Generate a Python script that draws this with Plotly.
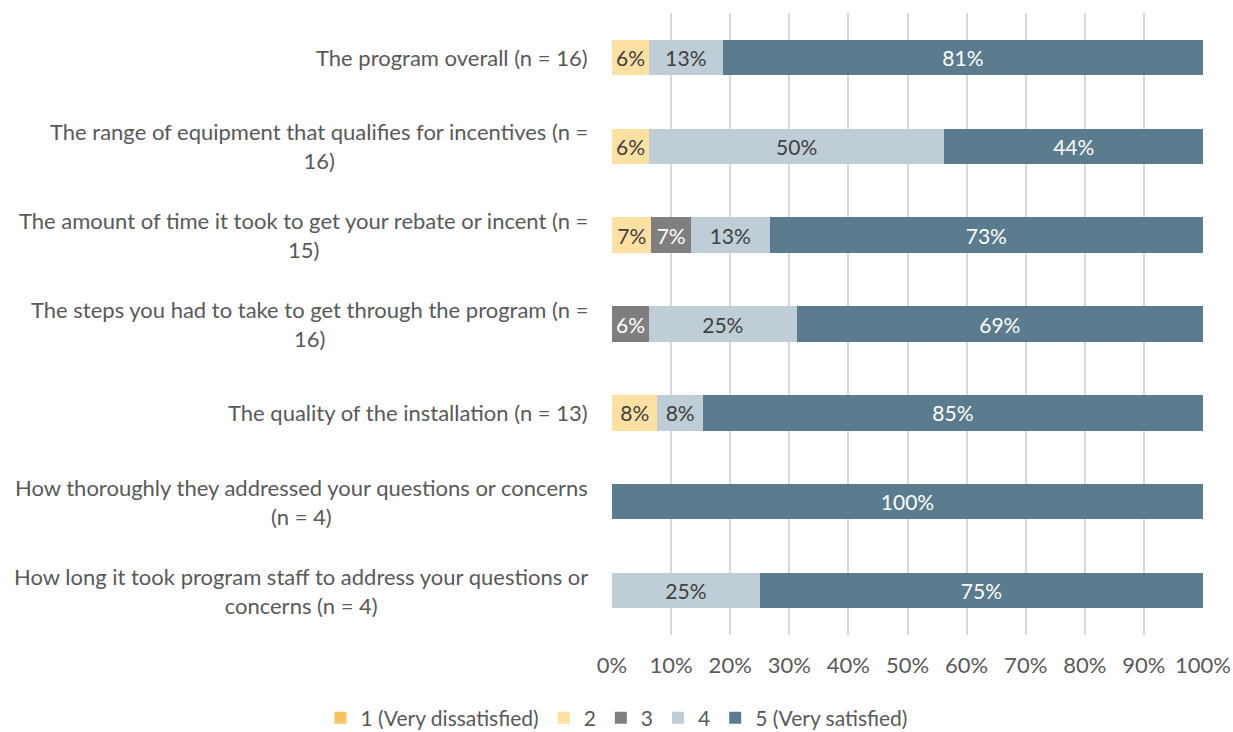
import math
import plotly.graph_objects as go

categories = [
    "The program overall (n = 16)",
    "The range of equipment that qualifies for incentives (n =<br>16)",
    "The amount of time it took to get your rebate or incent (n =<br>15)",
    "The steps you had to take to get through the program (n =<br>16)",
    "The quality of the installation (n = 13)",
    "How thoroughly they addressed your questions or concerns<br>(n = 4)",
    "How long it took program staff to address your questions or<br>concerns (n = 4)",
]
series_names = ["1 (Very dissatisfied)", "2", "3", "4", "5 (Very satisfied)"]
s1 = [0, 0, 0, 0, 0, 0, 0]
s2 = [6.25, 6.25, 6.67, 0, 7.69, 0, 0]
s3 = [0, 0, 6.67, 6.25, 0, 0, 0]
s4 = [12.5, 50.0, 13.33, 25.0, 7.69, 0, 25.0]
s5 = [81.25, 43.75, 73.33, 68.75, 84.62, 100.0, 75.0]
x_ticks = [0, 10, 20, 30, 40, 50, 60, 70, 80, 90, 100]

colors = ["#F6C45C", "#FDE0A2", "#7F7F7F", "#BFCDD6", "#5B7C8F"]
text_colors = ["#404040", "#404040", "#FFFFFF", "#404040", "#FFFFFF"]

FONT = "Lato"
SIZE = 22
fig = go.Figure()
for name, vals, c, tc in zip(series_names, [s1, s2, s3, s4, s5], colors, text_colors):
    fig.add_trace(go.Bar(
        y=categories, x=vals, name=name, orientation="h",
        marker=dict(color=c, line=dict(width=0)),
        text=[f"{math.floor(v + 0.5)}%" if v > 0 else "" for v in vals],
        textposition="inside", insidetextanchor="middle",
        textfont=dict(color=tc, size=21, family=FONT),
        hoverinfo="skip",
    ))

for cat in categories:
    fig.add_annotation(
        x=0, y=cat, xref="x", yref="y", text=cat, showarrow=False,
        xanchor="right", yanchor="middle", align="center", xshift=-22,
        font=dict(size=SIZE, color="#595959", family=FONT),
    )

fig.update_layout(
    barmode="stack", bargap=0.6,
    width=1233, height=732,
    margin=dict(l=612, r=30, t=13, b=97, autoexpand=False),
    plot_bgcolor="white", paper_bgcolor="white",
    font=dict(family=FONT, color="#595959", size=SIZE),
    showlegend=True,
    legend=dict(orientation="h", x=0.5, xref="container", xanchor="center",
                y=14 / 732, yref="container", yanchor="middle",
                font=dict(size=21, color="#595959", family=FONT),
                itemwidth=30, traceorder="normal"),
    uniformtext=dict(mode="show", minsize=10),
)
fig.update_xaxes(range=[0, 100], tickvals=x_ticks,
                 ticktext=[f"{t}%" for t in x_ticks],
                 showgrid=True, gridcolor="#D9D9D9", gridwidth=1.5,
                 zeroline=False, showline=False, ticks="", automargin=False,
                 ticklabelstandoff=15, tickfont=dict(size=SIZE, color="#595959"))
fig.update_yaxes(categoryorder="array", categoryarray=categories,
                 autorange="reversed", showticklabels=False, showgrid=False,
                 zeroline=False, showline=False, automargin=False)

fig.write_html("out.html")
